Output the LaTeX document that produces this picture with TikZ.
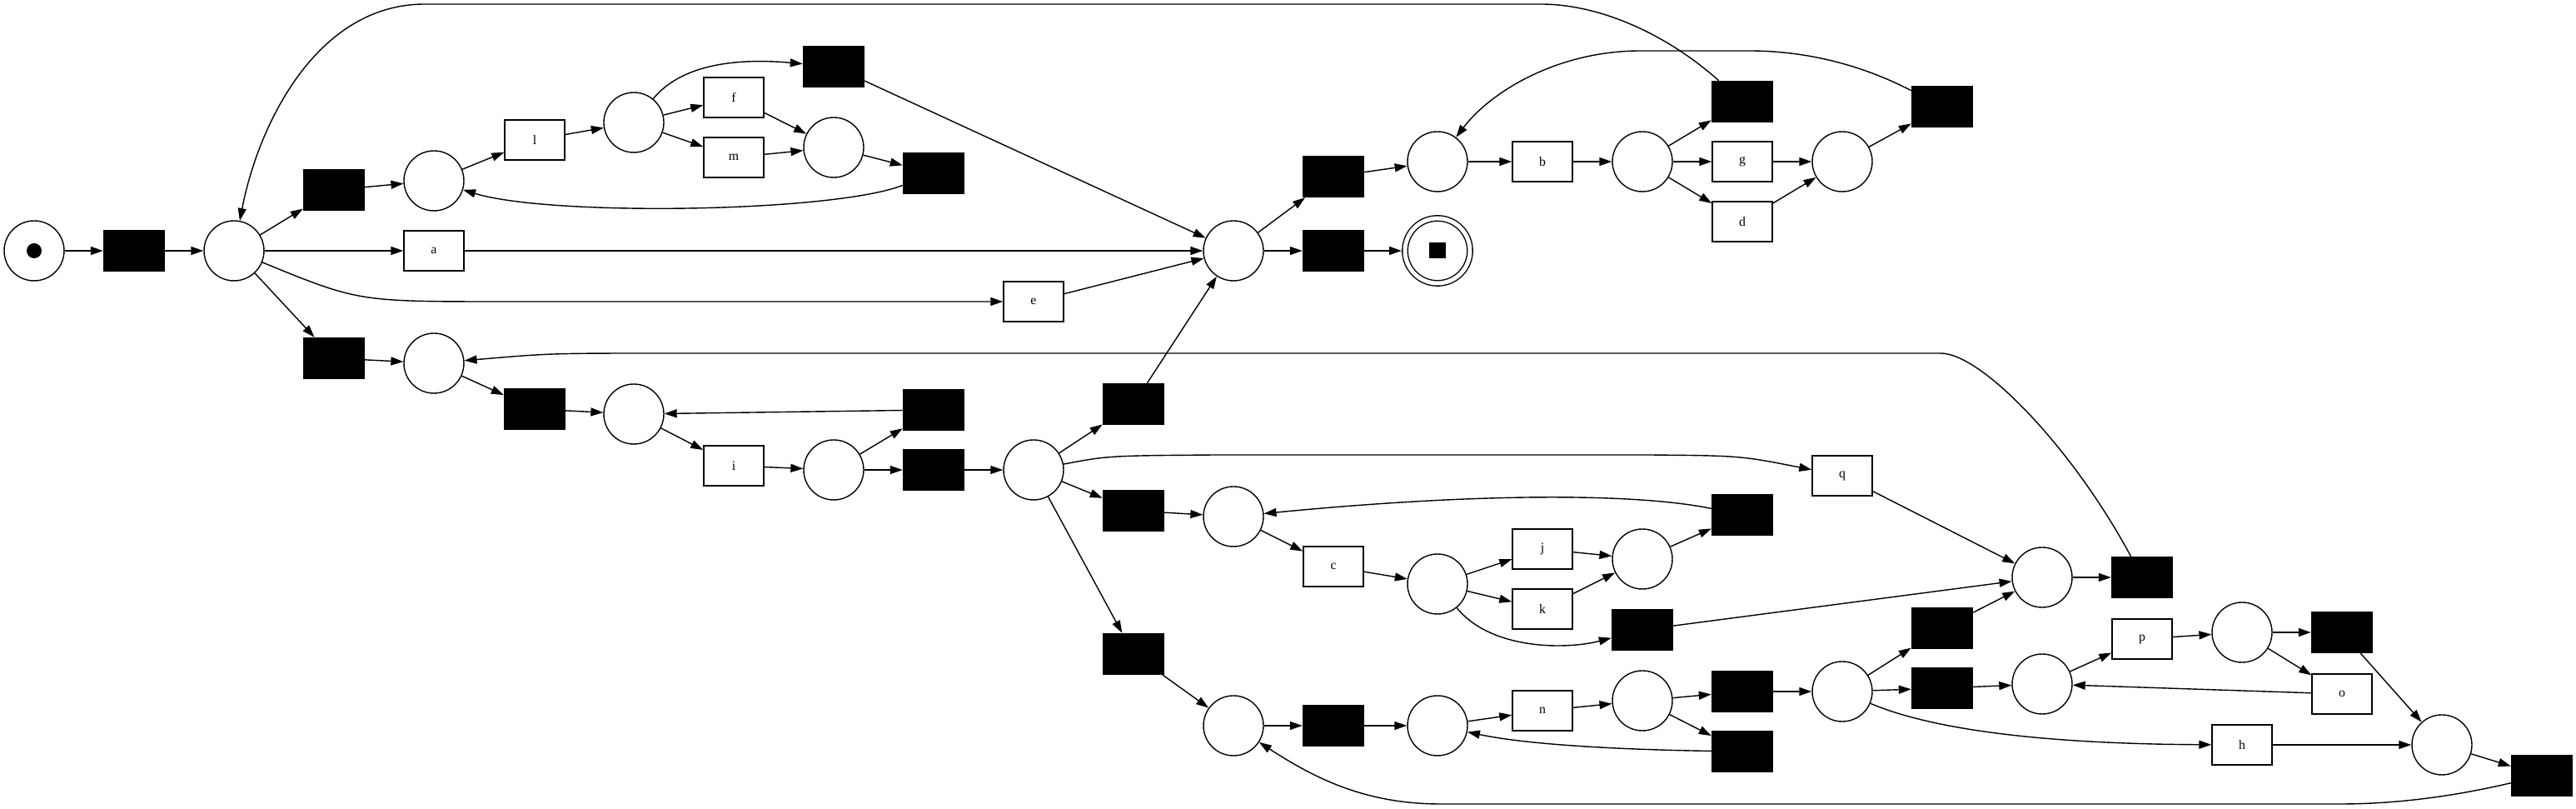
\documentclass[tikz,border=0pt]{standalone}
\usepackage{fontspec}
\setmainfont{Liberation Serif}
\usetikzlibrary{arrows.meta,positioning}

\begin{document}
\begin{tikzpicture}[
on grid,
node distance=1.2cm,
line width=0.4pt,
place/.style={circle,draw,minimum size=7.2mm,inner sep=0pt},
token/.style={place,path picture={\fill (path picture bounding box.center) circle (0.9mm);}},
silent/.style={draw,fill=black,minimum width=7.3mm,minimum height=4.9mm,inner sep=0pt},
act/.style={draw,minimum width=7.2mm,minimum height=4.8mm,inner sep=0pt,
font=\fontsize{4.5}{5}\selectfont},
final/.style={circle,draw,double,double distance=0.5mm,minimum size=7.8mm,inner sep=0pt,
outer sep=0.4mm,path picture={\fill ([shift={(-1mm,-0.95mm)}]path picture bounding box.center)
rectangle +(2mm,1.9mm);}},
arc/.style={-{Triangle[length=1.5mm,width=1mm]}}
]
\useasboundingbox (0,0) rectangle (30.93,-9.71);
\node[token] (p0) at (0.41,-3.01) {};
\node[silent,right=of p0] (s0) {};
\node[place,right=of s0] (p1) {};
\node[silent,above right=0.73cm and 1.2cm of p1] (s1) {};
\node[silent,below right=1.29cm and 1.2cm of p1] (s2) {};
\node[act,right=2.4cm of p1] (ta) {a};
\node[place,above right=0.11cm and 1.2cm of s1] (p2) {};
\node[place,below right=0.06cm and 1.2cm of s2] (p4) {};
\node[act,above right=0.49cm and 1.21cm of p2] (tl) {l};
\node[silent,below right=0.55cm and 1.21cm of p4] (s3) {};
\node[place,above right=0.21cm and 1.19cm of tl] (p3) {};
\node[place,below right=0.06cm and 1.19cm of s3] (p5) {};
\node[act,above right=0.3cm and 1.2cm of p3] (tf) {f};
\node[act,below right=0.42cm and 1.2cm of p3] (tm) {m};
\node[act,below right=0.62cm and 1.2cm of p5] (ti) {i};
\node[silent,above right=0.37cm and 1.2cm of tf] (s4) {};
\node[place,above right=0.12cm and 1.2cm of tm] (p6) {};
\node[place,below right=0.05cm and 1.2cm of ti] (p11) {};
\node[silent,below right=0.31cm and 1.2cm of p6] (s5) {};
\node[silent,above right=0.72cm and 1.2cm of p11] (s7) {};
\node[silent,right=of p11] (s12) {};
\node[act,below right=0.61cm and 7.2cm of ta] (te) {e};
\node[place,right=of s12] (p12) {};
\node[silent,above right=0.79cm and 1.2cm of p12] (s6) {};
\node[silent,below right=0.49cm and 1.2cm of p12] (s13) {};
\node[silent,below right=2.21cm and 1.2cm of p12] (s14) {};
\node[place,right=9.6cm of ta] (p7) {};
\node[place,below right=0.07cm and 1.2cm of s13] (p13) {};
\node[place,below right=0.86cm and 1.2cm of s14] (p14) {};
\node[silent,above right=0.89cm and 1.2cm of p7] (s8) {};
\node[silent,right=of p7] (s9) {};
\node[act,below right=0.6cm and 1.2cm of p13] (tc) {c};
\node[silent,right=of p14] (s15) {};
\node[place,above right=0.18cm and 1.25cm of s8] (p8) {};
\node[final,right=1.25cm of s9] (fin) {};
\node[place,below right=0.21cm and 1.25cm of tc] (p15) {};
\node[place,right=1.25cm of s15] (p17) {};
\node[act,right=1.26cm of p8] (tb) {b};
\node[act,above right=0.42cm and 1.26cm of p15] (tj) {j};
\node[act,below right=0.3cm and 1.26cm of p15] (tk) {k};
\node[act,above right=0.18cm and 1.26cm of p17] (tn) {n};
\node[place,right=of tb] (p9) {};
\node[place,below right=0.12cm and 1.2cm of tj] (p16) {};
\node[silent,below right=0.25cm and 1.2cm of tk] (s17) {};
\node[place,above right=0.12cm and 1.2cm of tn] (p18) {};
\node[silent,above right=0.72cm and 1.2cm of p9] (s10) {};
\node[act,right=of p9] (tg) {g};
\node[act,below right=0.72cm and 1.2cm of p9] (td) {d};
\node[silent,above right=0.53cm and 1.2cm of p16] (s16) {};
\node[silent,above right=0.11cm and 1.2cm of p18] (s18) {};
\node[silent,below right=0.61cm and 1.2cm of p18] (s19) {};
\node[place,right=of tg] (p10) {};
\node[act,above right=0.47cm and 1.2cm of s16] (tq) {q};
\node[place,right=of s18] (p19) {};
\node[silent,above right=0.66cm and 1.2cm of p10] (s11) {};
\node[silent,above right=0.76cm and 1.2cm of p19] (s21) {};
\node[silent,above right=0.04cm and 1.2cm of p19] (s22) {};
\node[place,above right=0.61cm and 1.2cm of s21] (p20) {};
\node[place,above right=0.05cm and 1.2cm of s22] (p21) {};
\node[silent,right=of p20] (s20) {};
\node[act,above right=0.54cm and 1.2cm of p21] (tp) {p};
\node[place,above right=0.08cm and 1.2cm of tp] (p22) {};
\node[act,below right=0.73cm and 2.4cm of p21] (th) {h};
\node[silent,right=of p22] (s23) {};
\node[act,below right=0.74cm and 1.2cm of p22] (to) {o};
\node[place,right=2.4cm of th] (p23) {};
\node[silent,below right=0.37cm and 1.2cm of p23] (s24) {};
\draw[arc] (p0)--(s0);
\draw[arc] (s0)--(p1);
\draw[arc] (p1)--(s1);
\draw[arc] (s1)--(p2);
\draw[arc] (p2)--(tl);
\draw[arc] (tl)--(p3);
\draw[arc] (p3)--(tf);
\draw[arc] (p3)--(tm);
\draw[arc] (p3) .. controls (8.2,-0.75) and (8.9,-0.7) .. (s4);
\draw[arc] (tf)--(p6);
\draw[arc] (tm)--(p6);
\draw[arc] (p6)--(s5);
\draw[arc] (s5) .. controls (10.0,-2.55) and (6.6,-2.6) .. (p2);
\draw[arc] (s4)--(p7);
\draw[arc] (p1)--(ta);
\draw[arc] (ta)--(p7);
\draw[arc] (p1) .. controls (4.3,-3.62) .. (6.0,-3.62) -- (te);
\draw[arc] (te)--(p7);
\draw[arc] (p1)--(s2);
\draw[arc] (s2)--(p4);
\draw[arc] (p4)--(s3);
\draw[arc] (s3)--(p5);
\draw[arc] (p5)--(ti);
\draw[arc] (ti)--(p11);
\draw[arc] (p11)--(s7);
\draw[arc] (s7)--(p5);
\draw[arc] (p11)--(s12);
\draw[arc] (s12)--(p12);
\draw[arc] (p12)--(s6);
\draw[arc] (s6)--(p7);
\draw[arc] (p12) .. controls (13.3,-5.47) .. (14.6,-5.46) -- (19.8,-5.46) .. controls (20.9,-5.47) .. (tq);
\draw[arc] (p12)--(s13);
\draw[arc] (p12)--(s14);
\draw[arc] (s13)--(p13);
\draw[arc] (p13)--(tc);
\draw[arc] (tc)--(p15);
\draw[arc] (p15)--(tj);
\draw[arc] (p15)--(tk);
\draw[arc] (p15) .. controls (17.9,-7.8) and (18.8,-7.8) .. (s17);
\draw[arc] (tj)--(p16);
\draw[arc] (tk)--(p16);
\draw[arc] (p16)--(s16);
\draw[arc] (s16) .. controls (19.7,-5.93) and (17.9,-5.9) .. (p13);
\draw[arc] (s17)--(p20);
\draw[arc] (tq)--(p20);
\draw[arc] (s21)--(p20);
\draw[arc] (p20)--(s20);
\draw[arc] (s20) .. controls (24.9,-5.4) and (23.8,-4.24) .. (23.3,-4.24) -- (8.0,-4.24) .. controls (6.6,-4.24) .. (p4);
\draw[arc] (s14)--(p14);
\draw[arc] (p14)--(s15);
\draw[arc] (s15)--(p17);
\draw[arc] (p17)--(tn);
\draw[arc] (tn)--(p18);
\draw[arc] (p18)--(s18);
\draw[arc] (p18)--(s19);
\draw[arc] (s19) .. controls (19.6,-9.0) and (18.4,-8.95) .. (p17);
\draw[arc] (s18)--(p19);
\draw[arc] (p19)--(s21);
\draw[arc] (p19)--(s22);
\draw[arc] (p19) .. controls (23.3,-8.8) and (24.8,-8.93) .. (th);
\draw[arc] (s22)--(p21);
\draw[arc] (p21)--(tp);
\draw[arc] (tp)--(p22);
\draw[arc] (p22)--(s23);
\draw[arc] (p22)--(to);
\draw[arc] (to)--(p21);
\draw[arc] (s23)--(p23);
\draw[arc] (th)--(p23);
\draw[arc] (p23)--(s24);
\draw[arc] (s24) .. controls (29.5,-9.55) and (28.8,-9.65) .. (28.1,-9.65) -- (17.3,-9.65) .. controls (16.4,-9.65) and (15.8,-9.35) .. (p14);
\draw[arc] (p7)--(s8);
\draw[arc] (p7)--(s9);
\draw[arc] (s9)--(fin);
\draw[arc] (s8)--(p8);
\draw[arc] (p8)--(tb);
\draw[arc] (tb)--(p9);
\draw[arc] (p9)--(s10);
\draw[arc] (p9)--(tg);
\draw[arc] (p9)--(td);
\draw[arc] (tg)--(p10);
\draw[arc] (td)--(p10);
\draw[arc] (p10)--(s11);
\draw[arc] (s11) .. controls (22.2,-0.7) and (21.5,-0.61) .. (21.0,-0.61) -- (19.7,-0.61) .. controls (18.7,-0.61) and (17.9,-1.1) .. (p8);
\draw[arc] (s10) .. controls (20.0,-0.4) and (19.2,-0.05) .. (18.5,-0.05) -- (5.1,-0.05) .. controls (3.8,-0.05) and (3.1,-1.5) .. (p1);
\end{tikzpicture}
\end{document}
